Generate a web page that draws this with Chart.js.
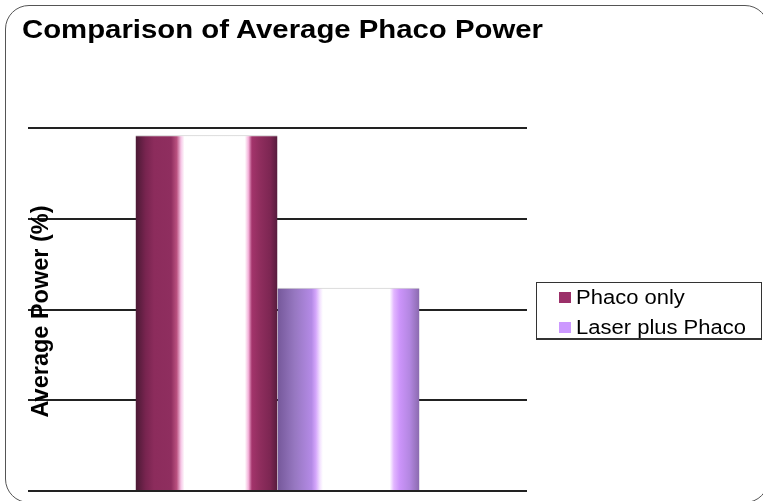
<!DOCTYPE html>
<html>
<head>
<meta charset="utf-8">
<script src="https://cdn.jsdelivr.net/npm/chart.js@4/dist/chart.umd.min.js"></script>
<style>
  html, body { margin: 0; padding: 0; background: #fff; }
  #wrap { position: relative; width: 763px; height: 501px; overflow: hidden; }
  #frame { position: absolute; left: 5px; top: 5px; width: 764px; height: 498px;
           border: 1px solid #555; border-radius: 24px; box-sizing: border-box; }
  #title { position: absolute; left: 22px; top: 17px; font: bold 25px "Liberation Sans", Arial, sans-serif;
           line-height: 25px; color: #000; white-space: nowrap; transform: scaleX(1.173); transform-origin: 0 0; }
  #legend { position: absolute; left: 536px; top: 282px; width: 226px; height: 58px; box-sizing: border-box;
            border: 1px solid #333; border-bottom-width: 2px; background: #fff; }
  .item { position: absolute; left: 22px; height: 20px; white-space: nowrap; }
  .sw { position: absolute; left: 0; top: 5px; width: 12px; height: 11px; }
  .lbl { position: absolute; left: 17px; top: 0; font: 20px "Liberation Sans", Arial, sans-serif; line-height: 20px;
         color: #000; transform: scaleX(1.1); transform-origin: 0 0; }
  canvas { position: absolute; left: 0; top: 0; }
</style>
</head>
<body>
<div id="wrap">
  <canvas id="c" width="763" height="501"></canvas>
  <div id="frame"></div>
  <div id="title">Comparison of Average Phaco Power</div>
  <div id="legend"></div>
</div>
<script>
// Data
const categories = [''];
const seriesNames = ['Phaco only', 'Laser plus Phaco'];
const phacoOnly = [3.92];
const laserPlusPhaco = [2.24];
const swatchColors = ['#9b3069', '#cc99ff'];
const yAxisTitle = 'Average Power (%)';

// Horizontal shading across each bar (offset, colour)
const barShades = [
  [[0, '#4a1934'], [0.07, '#77244f'], [0.13, '#8c2c5c'], [0.25, '#8f2e5f'], [0.29, '#b9517f'],
   [0.32, '#f6c6e6'], [0.345, '#ffffff'], [0.77, '#ffffff'], [0.795, '#f5b2da'], [0.82, '#a3346b'],
   [0.88, '#8e2d5d'], [0.95, '#7c2652'], [1, '#561c3d']],
  [[0, '#75589a'], [0.12, '#9677c0'], [0.24, '#b48ae6'], [0.27, '#d4a6fb'], [0.30, '#f4e4ff'],
   [0.32, '#ffffff'], [0.79, '#ffffff'], [0.82, '#e2b6ff'], [0.86, '#cc94fa'], [0.93, '#b487e2'],
   [1, '#8a6aae']]
];

// Legend
const legendEl = document.getElementById('legend');
seriesNames.forEach((name, i) => {
  const item = document.createElement('div');
  item.className = 'item';
  item.style.top = (i === 0 ? 4 : 34) + 'px';
  item.innerHTML = '<span class="sw" style="background:' + swatchColors[i] + '"></span><span class="lbl">' + name + '</span>';
  legendEl.appendChild(item);
});

const shadePlugin = {
  id: 'shade',
  beforeDatasetsDraw(chart) {
    const ctx = chart.ctx;
    chart.data.datasets.forEach((ds, di) => {
      chart.getDatasetMeta(di).data.forEach(el => {
        const left = el.x - el.width / 2, right = el.x + el.width / 2;
        const g = ctx.createLinearGradient(left, 0, right, 0);
        barShades[di].forEach(s => g.addColorStop(s[0], s[1]));
        el.options.backgroundColor = g;
      });
    });
  }
};

const yTitlePlugin = {
  id: 'yTitle',
  beforeDatasetsDraw(chart) {
    const ctx = chart.ctx, area = chart.chartArea;
    ctx.save();
    ctx.translate(42, (area.top + area.bottom) / 2 + 2);
    ctx.rotate(-Math.PI / 2);
    ctx.font = 'bold 23.5px "Liberation Sans", Arial, sans-serif';
    ctx.fillStyle = '#000';
    ctx.textAlign = 'center';
    ctx.textBaseline = 'middle';
    ctx.fillText(yAxisTitle, 0, 0);
    ctx.restore();
  }
};

new Chart(document.getElementById('c'), {
  type: 'bar',
  data: {
    labels: categories,
    datasets: [
      { label: seriesNames[0], data: phacoOnly, backgroundColor: swatchColors[0],
        borderColor: '#c8c8c8', borderWidth: { top: 1, left: 0, right: 0, bottom: 0 }, borderSkipped: 'bottom' },
      { label: seriesNames[1], data: laserPlusPhaco, backgroundColor: swatchColors[1],
        borderColor: '#c8c8c8', borderWidth: { top: 1, left: 0, right: 0, bottom: 0 }, borderSkipped: 'bottom' }
    ]
  },
  options: {
    responsive: false,
    animation: false,
    layout: { padding: { top: 128, left: 28, right: 236, bottom: 10 } },
    datasets: { bar: { barPercentage: 1, categoryPercentage: 0.569 } },
    plugins: { legend: { display: false }, title: { display: false }, tooltip: { enabled: false } },
    scales: {
      x: { display: false },
      y: {
        min: 0, max: 4,
        ticks: { display: false, stepSize: 1 },
        grid: { color: '#222', lineWidth: 2, drawTicks: false },
        border: { display: false },
        afterFit(scale) { scale.width = 0; }
      }
    }
  },
  plugins: [shadePlugin, yTitlePlugin]
});
</script>
</body>
</html>
